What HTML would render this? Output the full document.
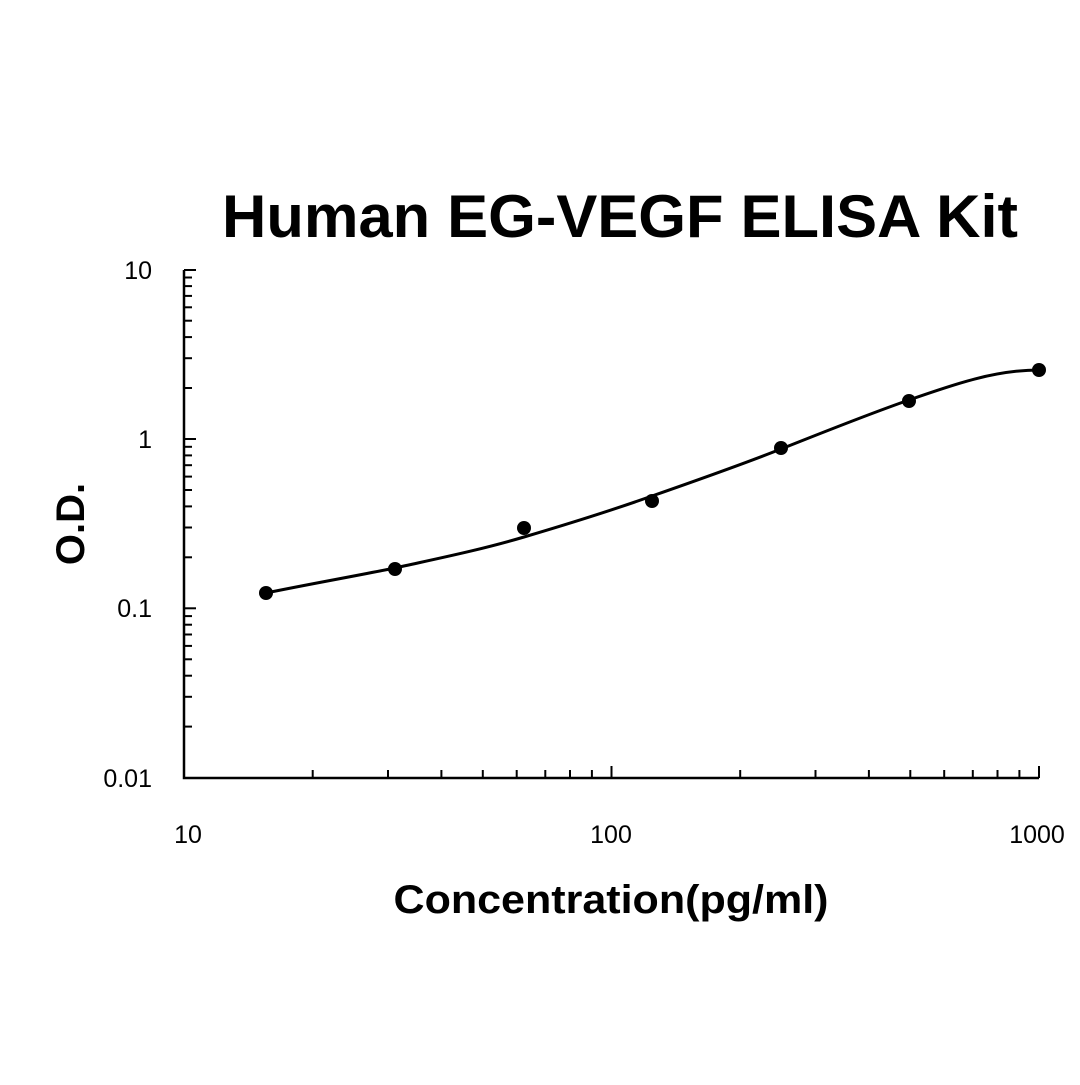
<!DOCTYPE html>
<html><head><style>body{margin:0;background:#fff}</style></head><body>
<svg width="1080" height="1080" xmlns="http://www.w3.org/2000/svg" font-family="Liberation Sans, Arial, sans-serif">
<rect width="1080" height="1080" fill="#fff"/>
<text x="620" y="237" font-size="60" font-weight="bold" text-anchor="middle" textLength="796" lengthAdjust="spacingAndGlyphs">Human EG-VEGF ELISA Kit</text>
<path d="M184,270 V778 H1039" stroke="#000" stroke-width="2.5" fill="none"/>
<g stroke="#000" stroke-width="2">
<line x1="312.7" y1="778" x2="312.7" y2="770"/><line x1="388" y1="778" x2="388" y2="770"/><line x1="441.4" y1="778" x2="441.4" y2="770"/><line x1="482.8" y1="778" x2="482.8" y2="770"/><line x1="516.7" y1="778" x2="516.7" y2="770"/><line x1="545.3" y1="778" x2="545.3" y2="770"/><line x1="570" y1="778" x2="570" y2="770"/><line x1="591.9" y1="778" x2="591.9" y2="770"/>
<line x1="611.5" y1="778" x2="611.5" y2="766"/>
<line x1="740.2" y1="778" x2="740.2" y2="770"/><line x1="815.5" y1="778" x2="815.5" y2="770"/><line x1="868.9" y1="778" x2="868.9" y2="770"/><line x1="910.3" y1="778" x2="910.3" y2="770"/><line x1="944.2" y1="778" x2="944.2" y2="770"/><line x1="972.8" y1="778" x2="972.8" y2="770"/><line x1="997.5" y1="778" x2="997.5" y2="770"/><line x1="1019.4" y1="778" x2="1019.4" y2="770"/>
<line x1="1039" y1="778" x2="1039" y2="766"/>
<line x1="184" y1="270" x2="196" y2="270"/><line x1="184" y1="439" x2="196" y2="439"/><line x1="184" y1="608.3" x2="196" y2="608.3"/>
<line x1="184" y1="388" x2="192" y2="388"/><line x1="184" y1="358.2" x2="192" y2="358.2"/><line x1="184" y1="337.1" x2="192" y2="337.1"/><line x1="184" y1="320.7" x2="192" y2="320.7"/><line x1="184" y1="307.3" x2="192" y2="307.3"/><line x1="184" y1="295.9" x2="192" y2="295.9"/><line x1="184" y1="286.1" x2="192" y2="286.1"/><line x1="184" y1="277.5" x2="192" y2="277.5"/>
<line x1="184" y1="557.3" x2="192" y2="557.3"/><line x1="184" y1="527.5" x2="192" y2="527.5"/><line x1="184" y1="506.4" x2="192" y2="506.4"/><line x1="184" y1="490" x2="192" y2="490"/><line x1="184" y1="476.6" x2="192" y2="476.6"/><line x1="184" y1="465.2" x2="192" y2="465.2"/><line x1="184" y1="455.4" x2="192" y2="455.4"/><line x1="184" y1="446.8" x2="192" y2="446.8"/>
<line x1="184" y1="726.6" x2="192" y2="726.6"/><line x1="184" y1="696.8" x2="192" y2="696.8"/><line x1="184" y1="675.7" x2="192" y2="675.7"/><line x1="184" y1="659.3" x2="192" y2="659.3"/><line x1="184" y1="645.9" x2="192" y2="645.9"/><line x1="184" y1="634.5" x2="192" y2="634.5"/><line x1="184" y1="624.7" x2="192" y2="624.7"/><line x1="184" y1="616.1" x2="192" y2="616.1"/>
</g>
<g font-size="25" text-anchor="end">
<text x="152" y="279">10</text><text x="152" y="448">1</text><text x="152" y="617">0.1</text><text x="152" y="787">0.01</text>
</g>
<g font-size="25" text-anchor="middle">
<text x="188" y="843">10</text><text x="611" y="843">100</text><text x="1037" y="843">1000</text>
</g>
<text x="611" y="913" font-size="40" font-weight="bold" text-anchor="middle" textLength="435" lengthAdjust="spacingAndGlyphs">Concentration(pg/ml)</text>
<text transform="translate(84,524) rotate(-90)" font-size="40" font-weight="bold" text-anchor="middle">O.D.</text>
<path d="M266,593 C310,584 350,577 395,568 C440,558 480,550 524,537 C568,524 610,511 652,496 C695,481 738,466 781,449 C824,432 866,415 909,400 C955,384 995,370 1039,370" stroke="#000" stroke-width="3" fill="none"/>
<g fill="#000">
<circle cx="266" cy="593" r="7"/><circle cx="395" cy="569" r="7"/><circle cx="524" cy="528" r="7"/><circle cx="652" cy="501" r="7"/><circle cx="781" cy="448" r="7"/><circle cx="909" cy="401" r="7"/><circle cx="1039" cy="370" r="7"/>
</g>
</svg>
</body></html>
